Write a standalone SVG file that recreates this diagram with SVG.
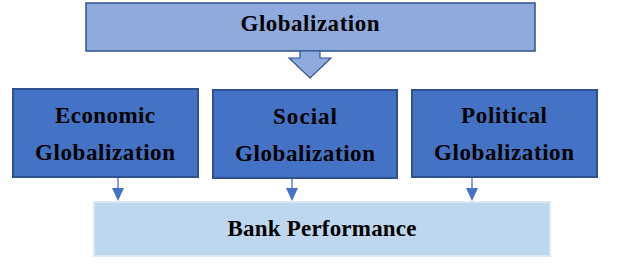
<svg xmlns="http://www.w3.org/2000/svg" width="620" height="265" viewBox="0 0 620 265">
<style>
.t{font-family:"Liberation Serif","Times New Roman",serif;font-weight:bold;fill:#000;text-anchor:middle;font-size:23px;}
.mid{fill:#4472c4;stroke:#2f528f;stroke-width:2;}
.conn{stroke:#4472c4;stroke-width:1.3;fill:none;}
.head{fill:#4472c4;}
</style>
<g id="globalization">
<rect x="86" y="3" width="449" height="48" fill="#8faadc" stroke="#2f528f" stroke-width="1.5"/>
<text class="t" x="310" y="31" textLength="139" lengthAdjust="spacing">Globalization</text>
</g>
<g id="economic">
<rect class="mid" x="13" y="89" width="185" height="88"/>
<text class="t" x="105" y="123" textLength="100" lengthAdjust="spacing">Economic</text>
<text class="t" x="105" y="160" textLength="140" lengthAdjust="spacing">Globalization</text>
</g>
<g id="social">
<rect class="mid" x="213" y="90" width="184" height="88"/>
<text class="t" x="305" y="124" textLength="64" lengthAdjust="spacing">Social</text>
<text class="t" x="305" y="161" textLength="140" lengthAdjust="spacing">Globalization</text>
</g>
<g id="political">
<rect class="mid" x="412" y="90" width="185" height="87"/>
<text class="t" x="504" y="123" textLength="86" lengthAdjust="spacing">Political</text>
<text class="t" x="504" y="160" textLength="140" lengthAdjust="spacing">Globalization</text>
</g>
<g id="bank">
<rect x="94" y="202" width="456" height="54" fill="#bdd7ee" stroke="#dae8f5" stroke-width="2"/>
<text class="t" x="322" y="236" textLength="189" lengthAdjust="spacing">Bank Performance</text>
</g>
<g id="connectors">
<polygon points="300,51 320,51 320,58 331,58 310,78 289,58 300,58" fill="#8faadc" stroke="#2f528f" stroke-width="1.2"/>
<line class="conn" x1="118" y1="178" x2="118" y2="189"/>
<polygon class="head" points="112,188 124,188 118,201"/>
<line class="conn" x1="292" y1="179" x2="292" y2="189"/>
<polygon class="head" points="286,188 298,188 292,201"/>
<line class="conn" x1="472" y1="178" x2="472" y2="189"/>
<polygon class="head" points="466,188 478,188 472,201"/>
</g>
</svg>
